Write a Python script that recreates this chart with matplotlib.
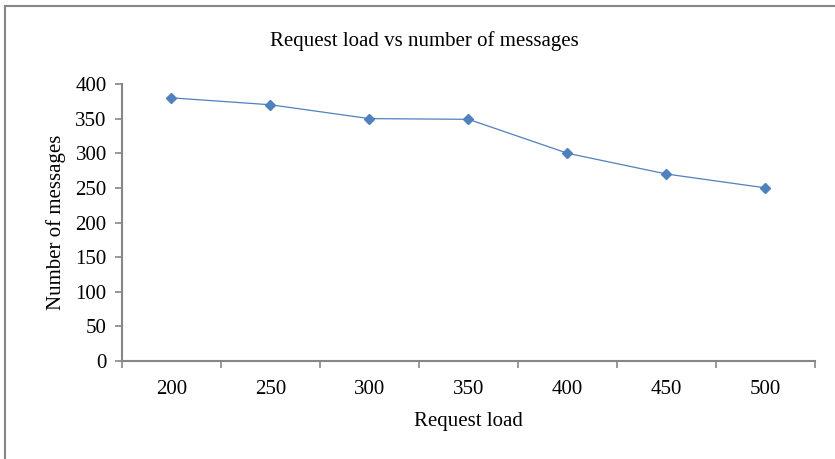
import numpy as np
import matplotlib.pyplot as plt
from matplotlib.lines import Line2D

plt.rcParams['font.family'] = ['Liberation Serif', 'DejaVu Serif']

# request load categories and message counts
loads = ['200', '250', '300', '350', '400', '450', '500']
messages = [380, 370, 350, 349, 300, 270, 250]

line_color = '#4f81bd'
axis_color = '#868686'

fig = plt.figure(figsize=(8.35, 4.59), dpi=100)
ax = fig.add_axes([0.1461, 0.2135, 0.8299, 0.6035])

x = np.arange(len(loads))
ax.plot(x, messages, color=line_color, linewidth=0.9,
        marker='D', markersize=5, markerfacecolor=line_color,
        markeredgecolor=line_color)

ax.set_xlim(-0.5, len(loads) - 0.5)
ax.set_ylim(0, 400)
ax.set_yticks(np.arange(0, 401, 50))

# category labels centred, tick marks between categories
ax.set_xticks(x)
ax.set_xticklabels(loads)
ax.set_xticks(np.arange(-0.5, len(loads), 1), minor=True)
ax.tick_params(axis='x', which='major', length=0, pad=14, labelsize=15)
ax.tick_params(axis='x', which='minor', length=5, width=1.2,
               color=axis_color, direction='out')
ax.tick_params(axis='y', length=5, width=1.2, color=axis_color,
               direction='out', labelsize=15, pad=6)

for side in ['top', 'right']:
    ax.spines[side].set_visible(False)
for side in ['left', 'bottom']:
    ax.spines[side].set_color(axis_color)
    ax.spines[side].set_linewidth(1.5)

fig.text(0.508, 1 - 41 / 459, 'Request load vs number of messages',
         fontsize=15, ha='center', va='center')
ax.set_xlabel('Request load', fontsize=15, labelpad=9)
ax.set_ylabel('Number of messages', fontsize=15, labelpad=7)

# chart area border
fig.add_artist(Line2D([5 / 835, 1.0], [1 - 6 / 459, 1 - 6 / 459],
                      transform=fig.transFigure, color=axis_color, lw=1.5))
fig.add_artist(Line2D([5 / 835, 5 / 835], [0.0, 1 - 6 / 459],
                      transform=fig.transFigure, color=axis_color, lw=1.5))

fig.savefig('out.png', dpi=100)
